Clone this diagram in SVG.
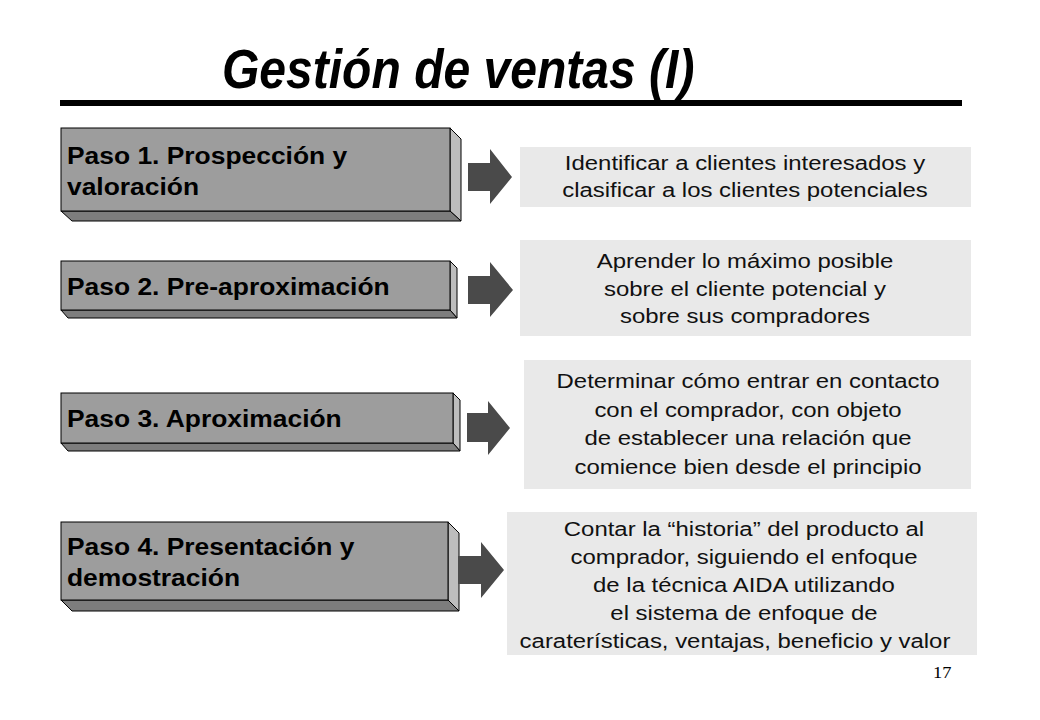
<svg xmlns="http://www.w3.org/2000/svg" width="1040" height="720" viewBox="0 0 1040 720">
<style>
.front{fill:#9d9d9d;stroke:#000;stroke-width:1}
.side{fill:#bdbdbd;stroke:#000;stroke-width:1}
.bot{fill:#7d7d7d;stroke:#000;stroke-width:1}
.lbl{font-family:"Liberation Sans",Arial,sans-serif;font-weight:bold;font-size:24px;fill:#000}
.desc{fill:#e9e9e9}
.dt{font-family:"Liberation Sans",Arial,sans-serif;font-size:21px;fill:#111;text-anchor:middle}
.arr{fill:#4a4a4a}
.title{font-family:"Liberation Sans",Arial,sans-serif;font-weight:bold;font-style:italic;font-size:56px;fill:#000}
</style>
<rect width="1040" height="720" fill="#fff"/>
<text class="title" transform="translate(222,88) scale(0.858,1)">Gestión de ventas (I)</text>
<rect x="60" y="100" width="902" height="6" fill="#000"/>

<g id="paso1">
<polygon class="side" points="450,128 461,139 461,221 450,211"/>
<polygon class="bot" points="61,211 450,211 461,221 72,221"/>
<rect class="front" x="61" y="128" width="389" height="83"/>
<text class="lbl" transform="translate(67,164) scale(1.1,1)">Paso 1. Prospección y</text>
<text class="lbl" transform="translate(67,195) scale(1.1,1)">valoración</text>
</g>
<g id="paso2">
<polygon class="side" points="450,261 457,268 457,318 450,310"/>
<polygon class="bot" points="61,310 450,310 457,318 68,318"/>
<rect class="front" x="61" y="261" width="389" height="49"/>
<text class="lbl" transform="translate(67,295) scale(1.1,1)">Paso 2. Pre-aproximación</text>
</g>
<g id="paso3">
<polygon class="side" points="453,393 460,400 460,451 453,443"/>
<polygon class="bot" points="61,443 453,443 460,451 68,451"/>
<rect class="front" x="61" y="393" width="392" height="50"/>
<text class="lbl" transform="translate(67,427) scale(1.1,1)">Paso 3. Aproximación</text>
</g>
<g id="paso4">
<polygon class="side" points="448,522 459,533 459,611 448,600"/>
<polygon class="bot" points="61,600 448,600 459,611 72,611"/>
<rect class="front" x="61" y="522" width="387" height="78"/>
<text class="lbl" transform="translate(67,555) scale(1.1,1)">Paso 4. Presentación y</text>
<text class="lbl" transform="translate(67,586) scale(1.1,1)">demostración</text>
</g>

<g id="connectors">
<polygon class="arr" points="468,163 490,163 490,149 512,177 490,204 490,191 468,191"/>
<polygon class="arr" points="468,276 490,276 490,262 513,290 490,317 490,304 468,304"/>
<polygon class="arr" points="467,413 488,413 488,401 510,428 488,455 488,442 467,442"/>
<polygon class="arr" points="458,556 481,556 481,542 504,570 481,598 481,584 458,584"/>
</g>

<g id="desc1">
<rect class="desc" x="520" y="147" width="451" height="60"/>
<text class="dt" transform="translate(745,170) scale(1.14,1)">Identificar a clientes interesados y</text>
<text class="dt" transform="translate(745,197) scale(1.14,1)">clasificar a los clientes potenciales</text>
</g>
<g id="desc2">
<rect class="desc" x="520" y="240" width="451" height="96"/>
<text class="dt" transform="translate(745,268) scale(1.14,1)">Aprender lo máximo posible</text>
<text class="dt" transform="translate(745,296) scale(1.14,1)">sobre el cliente potencial y</text>
<text class="dt" transform="translate(745,323) scale(1.14,1)">sobre sus compradores</text>
</g>
<g id="desc3">
<rect class="desc" x="524" y="360" width="447" height="129"/>
<text class="dt" transform="translate(748,388) scale(1.14,1)">Determinar cómo entrar en contacto</text>
<text class="dt" transform="translate(748,417) scale(1.14,1)">con el comprador, con objeto</text>
<text class="dt" transform="translate(748,445) scale(1.14,1)">de establecer una relación que</text>
<text class="dt" transform="translate(748,474) scale(1.14,1)">comience bien desde el principio</text>
</g>
<g id="desc4">
<rect class="desc" x="507" y="512" width="470" height="143"/>
<text class="dt" transform="translate(744,536) scale(1.14,1)">Contar la “historia” del producto al</text>
<text class="dt" transform="translate(744,564) scale(1.14,1)">comprador, siguiendo el enfoque</text>
<text class="dt" transform="translate(744,592) scale(1.14,1)">de la técnica AIDA utilizando</text>
<text class="dt" transform="translate(744,620) scale(1.14,1)">el sistema de enfoque de</text>
<text class="dt" transform="translate(735,648) scale(1.14,1)">caraterísticas, ventajas, beneficio y valor</text>
</g>
<text transform="translate(933,678) scale(1.15,1)" style="font-family:'Liberation Serif','Times New Roman',serif;font-size:16px;fill:#000">17</text>
</svg>
